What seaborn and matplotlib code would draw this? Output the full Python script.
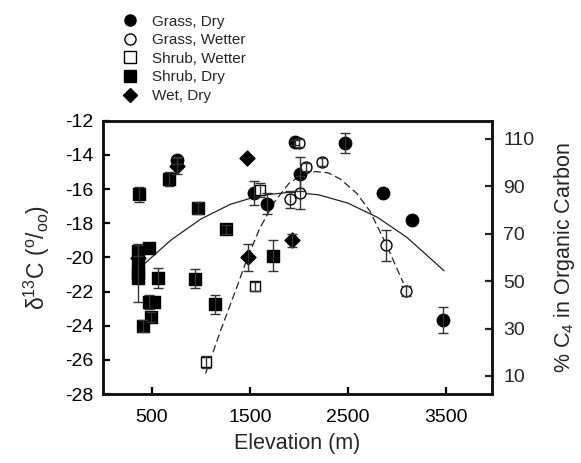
import numpy as np
import pandas as pd
import matplotlib
matplotlib.use("Agg")
import matplotlib.pyplot as plt
from matplotlib.lines import Line2D
import seaborn as sns

# Grass, Dry (círculo cheio)
grass_dry_elev = [755, 1541, 1670, 1956, 2010, 2466, 2860, 3153, 3473]
grass_dry_d13c = [-14.3, -16.2, -16.85, -13.25, -15.1, -13.3, -16.25, -17.8, -23.65]
grass_dry_err = [0.2, 0.7, 0.6, 0.15, 1.0, 0.6, 0, 0, 0.75]

# Grass, Wetter (círculo vazio)
grass_wet_elev = [2003, 2068, 2231, 1908, 2010, 2888, 3092]
grass_wet_d13c = [-13.3, -14.7, -14.4, -16.6, -16.2, -19.3, -21.95]
grass_wet_err = [0.25, 0.25, 0.25, 0.5, 0.95, 0.9, 0.3]

# Shrub, Wetter (quadrado vazio)
shrub_wet_elev = [1048, 1548, 1602]
shrub_wet_d13c = [-26.15, -21.7, -16.05]
shrub_wet_err = [0.35, 0.25, 0.4]

# Shrub, Dry (quadrado cheio)
shrub_dry_elev = [367, 673, 969, 1255, 354, 354, 354, 354, 469, 561, 939, 1143, 470, 520, 487, 408, 1738]
shrub_dry_d13c = [-16.3, -15.4, -17.1, -18.35, -19.6, -20.5, -20.9, -21.2, -19.45, -21.2, -21.25, -22.75,
                  -22.6, -22.6, -23.5, -24.0, -19.9]
shrub_dry_err = [0.45, 0.4, 0.35, 0.25, 0.3, 0, 1.7, 0, 0, 0.6, 0.55, 0.55, 0.4, 0, 0.3, 0.35, 0.9]

# Wet, Dry (losango)
wet_dry_elev = [354, 755, 1469, 1476, 1929]
wet_dry_d13c = [-20.05, -14.65, -14.15, -20.0, -19.0]
wet_dry_err = [0, 0.45, 0, 0.8, 0.4]

# curvas ajustadas
solid_elev = [410, 700, 1000, 1300, 1600, 1915, 2200, 2500, 2800, 3100, 3480]
solid_d13c = [-20.44, -18.96, -17.75, -16.89, -16.37, -16.18, -16.33, -16.82, -17.65, -18.82, -20.78]
dash_elev = [1048, 1200, 1350, 1476, 1600, 1750, 1900, 2050, 2165, 2300, 2420, 2590, 2725, 2895, 3065]
dash_d13c = [-26.8, -24.3, -22.0, -20.0, -18.3, -16.75, -15.65, -15.1, -14.97, -15.05, -15.4, -16.25,
             -17.3, -19.3, -21.5]

sns.set_style("ticks")
plt.rcParams['font.family'] = ['Liberation Sans', 'DejaVu Sans']
plt.rcParams['mathtext.fontset'] = 'custom'
plt.rcParams['mathtext.rm'] = 'Liberation Sans'
plt.rcParams['axes.unicode_minus'] = False

groups = [
    ('Grass, Dry', grass_dry_elev, grass_dry_d13c, grass_dry_err, 'o', 'black', 80),
    ('Grass, Wetter', grass_wet_elev, grass_wet_d13c, grass_wet_err, 'o', 'white', 62),
    ('Shrub, Wetter', shrub_wet_elev, shrub_wet_d13c, shrub_wet_err, 's', 'white', 52),
    ('Shrub, Dry', shrub_dry_elev, shrub_dry_d13c, shrub_dry_err, 's', 'black', 68),
    ('Wet, Dry', wet_dry_elev, wet_dry_d13c, wet_dry_err, 'D', 'black', 58),
]

fig = plt.figure(figsize=(5.81, 4.63), dpi=100)
ax = fig.add_axes([0.177, 0.149, 0.670, 0.590])

for label, x, y, e, m, fc, s in groups:
    df = pd.DataFrame({'x': x, 'y': y, 'e': e})
    sns.scatterplot(data=df, x='x', y='y', marker=m, s=s, color=fc, edgecolor='black',
                    linewidth=1, ax=ax, zorder=3, legend=False)
    d = df[df['e'] > 0]
    ax.errorbar(d['x'], d['y'], yerr=d['e'], fmt='none', ecolor='#333333', elinewidth=1,
                capsize=3.5, capthick=1, zorder=4)

sns.lineplot(x=solid_elev, y=solid_d13c, ax=ax, color='#222222', linewidth=0.9,
             sort=False, estimator=None, zorder=2)
sns.lineplot(x=dash_elev, y=dash_d13c, ax=ax, color='#222222', linewidth=0.9,
             sort=False, estimator=None, zorder=2)
ax.lines[-1].set_dashes([6, 3])

ax.set_xlim(0, 3970)
ax.set_ylim(-28, -12)
ax.set_xticks([500, 1500, 2500, 3500])
ax.set_yticks(np.arange(-28, -11, 2))
ax.set_xlabel('Elevation (m)', fontsize=15.5, labelpad=5)
ax.set_ylabel('δ$^{13}$C ($^{\\mathrm{o}}$/$_{\\mathrm{oo}}$)', fontsize=16.5, labelpad=9)
ax.tick_params(direction='in', length=5, width=1.6, labelsize=14, pad=7, colors='black')
ax.tick_params(axis='x', pad=11)

twin = ax.twinx()
twin.set_ylim(2.4, 117.6)
twin.set_yticks(np.arange(10, 111, 20))
twin.set_ylabel('% C$_4$ in Organic Carbon', fontsize=15.5, labelpad=13)
twin.tick_params(direction='in', length=5, width=1.6, labelsize=14, pad=8)

for a in (ax, twin):
    for sp in a.spines.values():
        sp.set_linewidth(1.8)
        sp.set_color('#111111')

handles = []
for label, x, y, e, m, fc, s in groups:
    handles.append(Line2D([], [], marker=m, ls='none', mfc=fc, mec='black', mew=1,
                          ms=8 if m != 'D' else 7, label=label))
fig.legend(handles=handles, loc='upper left', bbox_to_anchor=(0.198, 0.985), frameon=False,
           fontsize=11, handletextpad=0.9, labelspacing=0.3, borderpad=0, handlelength=1)

fig.savefig('out.png', dpi=100)
